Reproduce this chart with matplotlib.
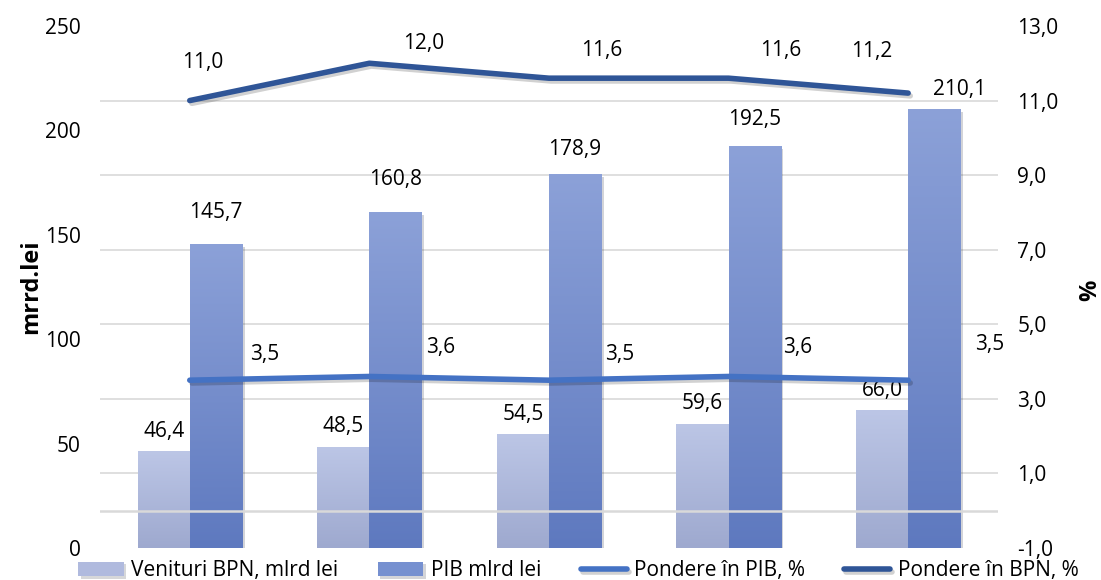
import numpy as np
import matplotlib
matplotlib.use("Agg")
import matplotlib.pyplot as plt
from matplotlib.colors import LinearSegmentedColormap
from matplotlib import patheffects as pe
from matplotlib.ticker import FuncFormatter

plt.rcParams['font.family'] = ['Open Sans', 'DejaVu Sans']

categories = ['', '', '', '', '']
venituri_bpn = [46.4, 48.5, 54.5, 59.6, 66.0]
pib = [145.7, 160.8, 178.9, 192.5, 210.1]
pondere_pib = [3.5, 3.6, 3.5, 3.6, 3.5]
pondere_bpn = [11.0, 12.0, 11.6, 11.6, 11.2]

left_ticks = [0, 50, 100, 150, 200, 250]
right_ticks = [-1, 1, 3, 5, 7, 9, 11, 13]


def comma(v, pos=None):
    return f"{v:.1f}".replace('.', ',')


fig = plt.figure(figsize=(11.01, 5.8), dpi=100)
ax = fig.add_axes([0.0908, 0.0552, 0.8156, 0.9])
ax2 = ax.twinx()

x = np.arange(len(categories))
w = 0.29

light_cmap = LinearSegmentedColormap.from_list('l', ['#9ea9cf', '#bcc6e6'])
dark_cmap = LinearSegmentedColormap.from_list('d', ['#5e79bf', '#8ca1d8'])

shadow = [pe.SimplePatchShadow(offset=(2, -2), alpha=0.2), pe.Normal()]
b1 = ax.bar(x - w / 2, venituri_bpn, w, color='#b0bade', zorder=2,
            label='Venituri BPN, mlrd lei', path_effects=shadow)
b2 = ax.bar(x + w / 2, pib, w, color='#7690d0', zorder=2,
            label='PIB mlrd lei', path_effects=shadow)

# gradient fill inside each bar
grad = np.linspace(0, 1, 256).reshape(-1, 1)
for bars, cmap in ((b1, light_cmap), (b2, dark_cmap)):
    for r in bars:
        x0, y0 = r.get_x(), r.get_y()
        im = ax.imshow(grad, extent=[x0, x0 + r.get_width(), y0, y0 + r.get_height()],
                       origin='lower', aspect='auto', cmap=cmap, zorder=2.1)
        im.set_clip_path(r)

ax.set_xlim(-0.5, len(categories) - 0.5)
ax.set_ylim(0, 250)
ax.set_yticks(left_ticks)
grid_pos = [(t - right_ticks[0]) / (right_ticks[-1] - right_ticks[0]) * 250 for t in right_ticks]
ax.set_yticks(grid_pos, minor=True)
ax.grid(which='minor', axis='y', color='#d9d9d9', lw=1.2, zorder=0)
ax.set_axisbelow(True)
ax.set_xticks(x)
ax.set_xticklabels(categories)
ax.tick_params(axis='both', which='both', length=0)
ax.tick_params(axis='y', labelsize=15, pad=14)

ax2.set_ylim(-1, 13)
ax2.set_yticks(right_ticks)
ax2.yaxis.set_major_formatter(FuncFormatter(comma))
ax2.tick_params(axis='y', length=0, labelsize=15, pad=14)
ax2.axhline(0, color='#d9d9d9', lw=1.8, zorder=1)

line_shadow = [pe.SimpleLineShadow(offset=(1.5, -2), alpha=0.18), pe.Normal()]
ax2.plot(x, pondere_pib, color='#4472c4', lw=4, solid_capstyle='round',
         label='Pondere în PIB, %', path_effects=line_shadow, zorder=3)
ax2.plot(x, pondere_bpn, color='#2f5597', lw=4, solid_capstyle='round',
         label='Pondere în BPN, %', path_effects=line_shadow, zorder=3)

for a in (ax, ax2):
    for s in a.spines.values():
        s.set_visible(False)

# data labels (pixel offsets)
off_light = [(0, 20)] * 5
off_dark = [(0, 31), (0, 33), (0, 25), (0, 27), (25, 20)]
off_pib = [(75, 26), (71, 29), (71, 26), (69, 29), (82, 36)]
off_bpn = [(13, 38), (54, 20), (53, 28), (52, 28), (-36, 42)]

for i in range(len(categories)):
    ax.annotate(comma(venituri_bpn[i]), (x[i] - w / 2, venituri_bpn[i]), xytext=off_light[i],
                textcoords='offset pixels', ha='center', va='center', fontsize=15)
    ax.annotate(comma(pib[i]), (x[i] + w / 2, pib[i]), xytext=off_dark[i],
                textcoords='offset pixels', ha='center', va='center', fontsize=15)
    ax2.annotate(comma(pondere_pib[i]), (x[i], pondere_pib[i]), xytext=off_pib[i],
                 textcoords='offset pixels', ha='center', va='center', fontsize=15)
    ax2.annotate(comma(pondere_bpn[i]), (x[i], pondere_bpn[i]), xytext=off_bpn[i],
                 textcoords='offset pixels', ha='center', va='center', fontsize=15)

fig.text(0.028, 0.505, 'mrrd.lei', rotation=90, fontsize=17, fontweight='bold',
         ha='center', va='center')
fig.text(0.99, 0.5, '%', rotation=90, fontsize=17, fontweight='bold',
         ha='center', va='center')

h1, l1 = ax.get_legend_handles_labels()
h2, l2 = ax2.get_legend_handles_labels()
fig.legend(h1 + h2, l1 + l2, loc='center', bbox_to_anchor=(0.525, 0.016), ncol=4,
           frameon=False, fontsize=15, handlelength=2.2, handletextpad=0.35,
           columnspacing=1.9, borderpad=0)

fig.savefig('out.png', dpi=100)
